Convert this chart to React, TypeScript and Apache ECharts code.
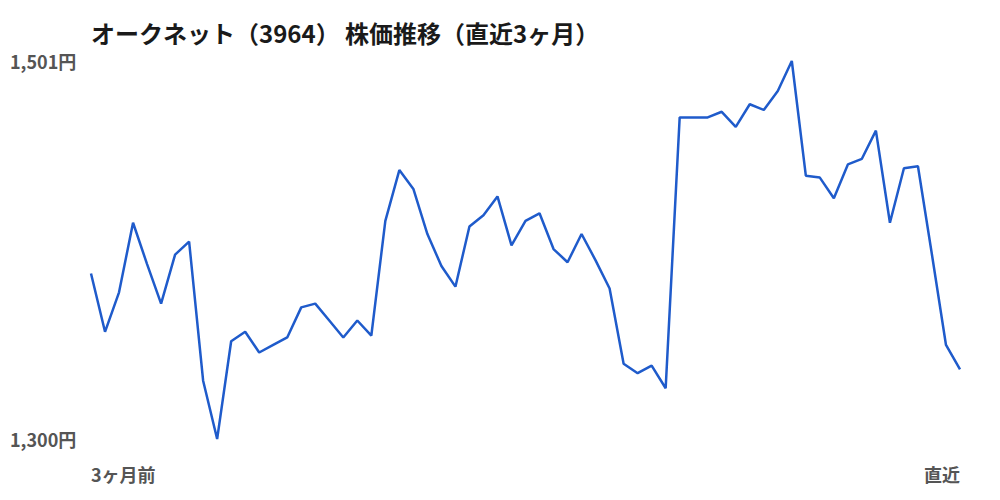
import { useEffect, useRef } from "react";
import * as echarts from "echarts";

// 直近3ヶ月の終値（円）
const prices = [
  1388, 1357, 1378, 1415, 1393, 1372, 1398, 1405, 1331, 1300,
  1352, 1357, 1346, 1350, 1354, 1370, 1372, 1363, 1354, 1363,
  1355, 1416, 1443, 1433, 1409, 1392, 1381, 1413, 1419, 1429,
  1403, 1416, 1420, 1401, 1394, 1409, 1395, 1380, 1340, 1335,
  1339, 1327, 1471, 1471, 1471, 1474, 1466, 1478, 1475, 1485,
  1501, 1440, 1439, 1428, 1446, 1449, 1464, 1415, 1444, 1445,
  1398, 1350, 1337,
];
const days = prices.map((_, i) => String(i));
const firstLabel = "3ヶ月前";
const lastLabel = "直近";
const yTicks = [1300, 1501];

const FONT = "'Noto Sans CJK JP', 'Noto Sans', sans-serif";

export default function App() {
  const chartRef = useRef<HTMLDivElement>(null);

  useEffect(() => {
    if (!chartRef.current) return;
    const chart = echarts.init(chartRef.current, null, { renderer: "svg" });
    const last = days.length - 1;

    chart.setOption({
      animation: false,
      backgroundColor: "#ffffff",
      title: {
        text: "オークネット（3964） 株価推移（直近3ヶ月）",
        left: 91,
        top: 20,
        padding: 0,
        textStyle: {
          fontFamily: FONT,
          fontSize: 24,
          fontWeight: "bold",
          color: "#1a1a1a",
        },
      },
      grid: { left: 91, right: 40, top: 61, bottom: 61 },
      xAxis: {
        type: "category",
        data: days,
        boundaryGap: false,
        axisLine: { show: false },
        axisTick: { show: false },
        splitLine: { show: false },
        axisLabel: {
          interval: (i: number) => i === 0 || i === last,
          formatter: (_v: string, i: number) =>
            i === 0 ? firstLabel : i === last ? lastLabel : "",
          alignMinLabel: "left",
          alignMaxLabel: "right",
          margin: 26,
          fontFamily: FONT,
          fontSize: 18,
          fontWeight: "bold",
          color: "#555555",
        },
      },
      yAxis: {
        type: "value",
        min: yTicks[0],
        max: yTicks[1],
        axisLine: { show: false },
        axisTick: { show: false },
        splitLine: { show: false },
        axisLabel: {
          customValues: yTicks,
          formatter: (v: number) => v.toLocaleString("ja-JP") + "円",
          align: "left",
          margin: 81,
          fontFamily: FONT,
          fontSize: 18,
          fontWeight: "bold",
          color: "#555555",
        },
      },
      series: [
        {
          type: "line",
          data: prices,
          symbol: "none",
          lineStyle: { color: "#1f5bcb", width: 2.5 },
        },
      ],
    });

    return () => {
      chart.dispose();
    };
  }, []);

  return (
    <div
      ref={chartRef}
      style={{ position: "absolute", left: 0, top: 0, width: 1000, height: 500 }}
    />
  );
}
